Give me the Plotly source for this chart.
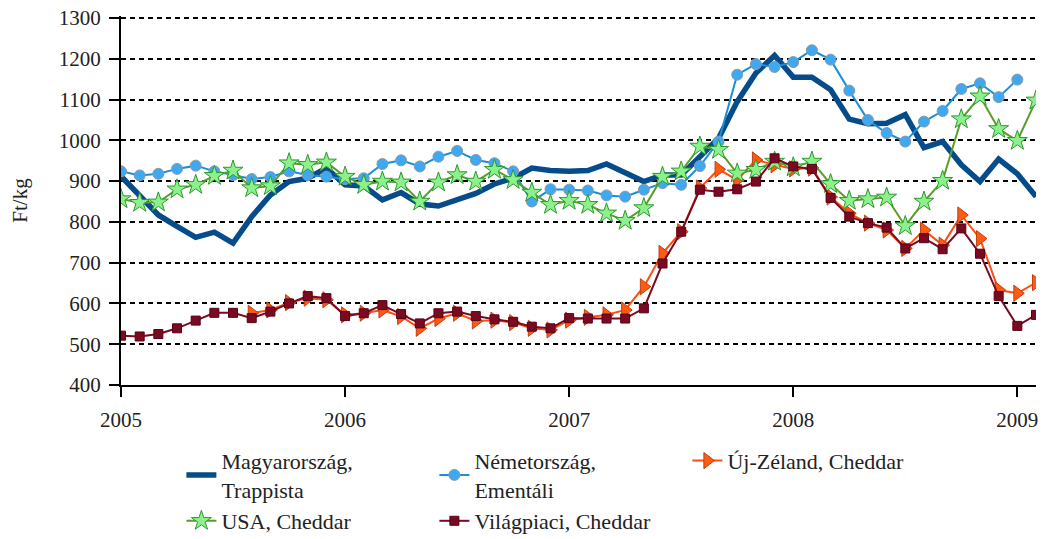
import plotly.graph_objects as go

# Monthly index: 0 = 2005 Jan ... 49 = 2009 Feb
months = list(range(50))
year_ticks = [0, 12, 24, 36, 48]
year_labels = ["2005", "2006", "2007", "2008", "2009"]
y_ticks = [400, 500, 600, 700, 800, 900, 1000, 1100, 1200, 1300]

magyar = [912, 865, 817, 789, 762, 775, 748, 813, 866, 899, 907, 932,
          891, 888, 854, 872, 844, 839, 854, 870, 893, 907, 932, 926,
          924, 926, 942, 919, 899, 915, 915, 960, 1005, 1095, 1165, 1208,
          1155, 1155, 1124, 1052, 1041, 1042, 1063, 982, 997, 940, 899, 954,
          918, 862]

nemet = [924, 914, 918, 930, 938, 924, 915, 905, 910, 924, 915, 911,
         905, 907, 942, 951, 936, 960, 974, 952, 944, 924, 850, 880,
         879, 877, 865, 862, 879, 895, 891, 937, 997, 1161, 1187, 1180,
         1192, 1221, 1198, 1122, 1050, 1018, 997, 1046, 1072, 1126, 1140, 1106,
         1149]

usa = [856, 847, 848, 880, 891, 913, 926, 883, 888, 944, 940, 946,
       911, 891, 899, 897, 850, 897, 915, 899, 928, 903, 872, 842,
       852, 842, 821, 803, 834, 911, 924, 985, 977, 919, 928, 948,
       934, 948, 893, 852, 856, 860, 790, 850, 901, 1052, 1108, 1028,
       999, 1098]

nz_months = list(range(7, 50))
nz = [576, 584, 602, 613, 609,
      572, 576, 584, 568, 539, 563, 576, 557, 559, 553, 539, 535,
      559, 566, 572, 584, 641, 723, 776, 883, 929, 903, 952, 940,
      930, 932, 861, 821, 797, 780, 735, 780, 743, 817, 759, 633,
      625, 651]

vilag = [521, 519, 525, 539, 558, 577, 577, 564, 580, 600, 618, 613,
         569, 576, 596, 574, 551, 576, 580, 569, 561, 555, 543, 539,
         564, 563, 563, 563, 588, 698, 776, 879, 874, 880, 899, 956,
         936, 930, 859, 813, 797, 786, 735, 760, 733, 784, 722, 618,
         545, 572]

fig = go.Figure()

fig.add_trace(go.Scatter(
    x=months, y=magyar, mode="lines", name="Magyarország,<br>Trappista",
    line=dict(color="#064C8A", width=5.5)))

fig.add_trace(go.Scatter(
    x=months[:len(nemet)], y=nemet, mode="lines+markers", name="Németország,<br>Ementáli",
    line=dict(color="#1A8FD6", width=2),
    marker=dict(symbol="circle", size=11, color="#3EA8F0",
                line=dict(color="#8A9AA8", width=1))))

fig.add_trace(go.Scatter(
    x=nz_months, y=nz, mode="lines+markers", name="Új-Zéland, Cheddar",
    line=dict(color="#FF4D12", width=2),
    marker=dict(symbol="triangle-right", size=14, color="#FF5A14",
                line=dict(color="#C04010", width=1))))

fig.add_trace(go.Scatter(
    x=months, y=usa, mode="lines+markers", name="USA, Cheddar",
    line=dict(color="#5A9E2A", width=2),
    marker=dict(symbol="star", size=15, color="#8CF08C",
                line=dict(color="#2E9A2E", width=1))))

fig.add_trace(go.Scatter(
    x=months, y=vilag, mode="lines+markers", name="Világpiaci, Cheddar",
    line=dict(color="#7A0A22", width=2),
    marker=dict(symbol="square", size=9, color="#7A0A22",
                line=dict(color="#5A0016", width=1))))

font_family = "Liberation Serif"

# page body has an 8px margin, so the figure is sized to fit the window
fig.update_layout(
    width=1042, height=531,
    margin=dict(l=113, r=14, t=8, b=154, autoexpand=False),
    paper_bgcolor="white", plot_bgcolor="white",
    font=dict(family=font_family, size=21, color="#222222"),
    showlegend=True,
    legend=dict(orientation="h", x=0.066, xanchor="left", y=-0.1485, yanchor="top",
                entrywidth=208, entrywidthmode="pixels",
                font=dict(family=font_family, size=22, color="#222222"),
                traceorder="normal", itemwidth=30, tracegroupgap=0),
    xaxis=dict(range=[0, 49], tickmode="array", tickvals=year_ticks, ticktext=year_labels,
               automargin=False, ticklabeloverflow="allow", ticklabelstandoff=5,
               showgrid=False, zeroline=False, showline=True, linecolor="black", linewidth=2,
               ticks="outside", ticklen=10, tickwidth=2, tickcolor="black",
               tickfont=dict(size=21)),
    yaxis=dict(range=[400, 1305], tickmode="array", tickvals=y_ticks,
               automargin=False, ticklabeloverflow="allow", ticklabelstandoff=4,
               title=dict(text="Ft/kg", font=dict(size=21), standoff=56),
               showgrid=True, gridcolor="black", gridwidth=2, griddash="5px,4px",
               zeroline=False, showline=True, linecolor="black", linewidth=2,
               ticks="outside", ticklen=10, tickwidth=2, tickcolor="black",
               tickfont=dict(size=21)),
)

fig.write_html("out.html")
